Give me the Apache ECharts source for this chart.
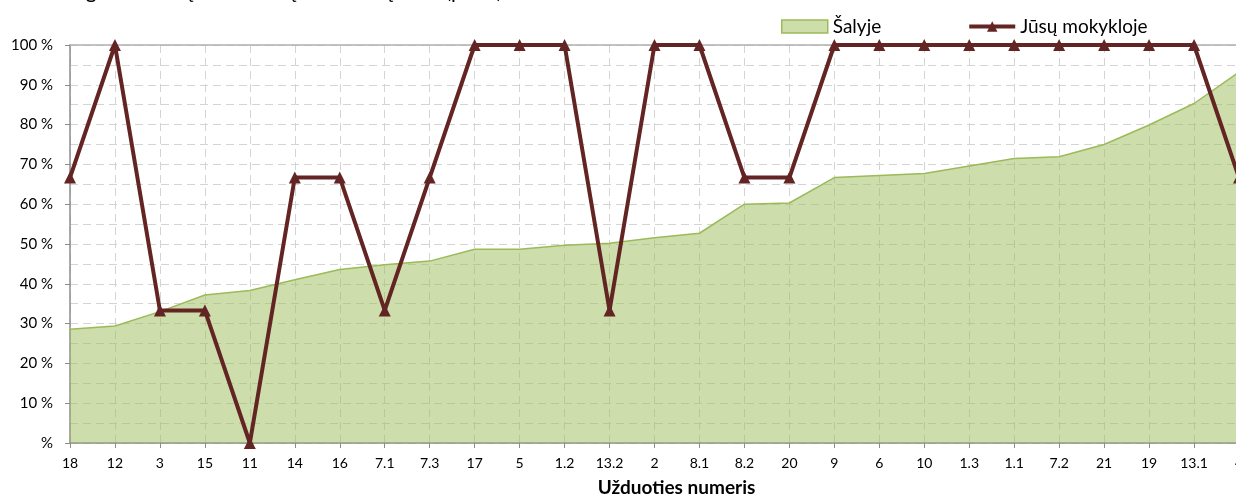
<!DOCTYPE html>
<html lang="lt">
<head>
    <meta charset="UTF-8">
    <title></title>
    <style>
        html, body { margin: 0; padding: 0; overflow: hidden; background: #fff; }
    </style>
</head>
<body>
<div id="main-line" style="width: 1300px; height: 496px;"></div>

<script src="https://cdn.jsdelivr.net/npm/echarts@6/dist/echarts.min.js"></script>
<script type="text/javascript">
    // užduočių numeriai (x ašis)
    var uzduotys = ['18', '12', '3', '15', '11', '14', '16', '7.1', '7.3', '17', '5', '1.2', '13.2', '2',
        '8.1', '8.2', '20', '9', '6', '10', '1.3', '1.1', '7.2', '21', '19', '13.1', '4'];
    // šalies rezultatai, %
    var salyje = [28.6, 29.4, 33.0, 37.2, 38.3, 41.0, 43.6, 44.8, 45.7, 48.7, 48.7, 49.7, 50.2, 51.6,
        52.7, 60.0, 60.3, 66.7, 67.2, 67.7, 69.6, 71.5, 71.9, 75.0, 79.9, 85.3, 93.2];
    // mokyklos rezultatai, %
    var mokykloje = [66.7, 100, 33.3, 33.3, 0, 66.7, 66.7, 33.3, 66.7, 100, 100, 100, 33.3, 100,
        100, 66.7, 66.7, 100, 100, 100, 100, 100, 100, 100, 100, 100, 66.7];
    var yTicks = [0, 10, 20, 30, 40, 50, 60, 70, 80, 90, 100];

    var font = 'Lato, "Open Sans", sans-serif';
    var gridColor = '#d4d4d4';
    var axisColor = '#8c8c8c';

    var myChart = echarts.init(document.getElementById('main-line'));

    var option = {
        animation: false,
        textStyle: {fontFamily: font},
        graphic: [{
            type: 'text',
            x: 34,
            y: -19,
            style: {
                text: 'Teisingai atlikusių moksleivių ir mokinių dalis (proc.)',
                font: '21px ' + font,
                fill: '#000',
                verticalAlign: 'top'
            }
        }],
        legend: {
            left: 776,
            top: 12,
            itemWidth: 46,
            itemHeight: 13,
            itemGap: 86,
            textStyle: {fontSize: 19, color: '#000', fontFamily: font},
            data: [{
                name: 'Šalyje',
                icon: 'rect',
                itemStyle: {color: '#cddeab', borderColor: '#9bbb59', borderWidth: 1.5}
            }, {
                name: 'Jūsų mokykloje',
                lineStyle: {width: 4, color: '#632523'}
            }]
        },
        grid: {
            left: 70,
            top: 45,
            right: 61,
            bottom: 53,
            outerBoundsMode: 'none'
        },
        xAxis: [{
            type: 'category',
            boundaryGap: false,
            data: uzduotys,
            axisLine: {lineStyle: {color: axisColor, width: 1.5}},
            axisTick: {show: true, length: 5, lineStyle: {color: axisColor}},
            axisLabel: {color: '#000', fontSize: 14, margin: 13, interval: 0},
            splitLine: {show: true, lineStyle: {color: gridColor, type: [8, 5], width: 1}},
            name: 'Užduoties numeris',
            nameLocation: 'middle',
            nameGap: 35,
            nameTextStyle: {color: '#000', fontSize: 19, fontWeight: 'bold', padding: [0, 0, 0, 44]}
        }, {
            type: 'category',
            position: 'top',
            boundaryGap: false,
            data: uzduotys,
            axisLine: {lineStyle: {color: '#b0b0b0', width: 1.5}},
            axisTick: {show: false},
            axisLabel: {show: false},
            splitLine: {show: false}
        }],
        yAxis: {
            type: 'value',
            min: yTicks[0],
            max: yTicks[yTicks.length - 1],
            interval: 10,
            axisLine: {show: true, lineStyle: {color: axisColor, width: 1.5}},
            axisTick: {show: true, length: 5, lineStyle: {color: axisColor}},
            axisLabel: {
                color: '#000',
                fontSize: 15,
                margin: 17,
                formatter: function (v) {
                    return v === 0 ? '%' : v + ' %';
                }
            },
            splitLine: {show: true, lineStyle: {color: gridColor, type: [8, 5], width: 1}},
            minorTick: {show: false, splitNumber: 2},
            minorSplitLine: {show: true, lineStyle: {color: gridColor, type: [8, 5], width: 1}}
        },
        series: [{
            name: 'Šalyje',
            type: 'line',
            symbol: 'none',
            data: salyje,
            itemStyle: {color: '#cddeab'},
            lineStyle: {color: '#9bbb59', width: 1.5},
            areaStyle: {color: '#9bbb59', opacity: 0.5},
            z: 2
        }, {
            name: 'Jūsų mokykloje',
            type: 'line',
            symbol: 'triangle',
            symbolSize: 12,
            data: mokykloje,
            itemStyle: {color: '#632523'},
            lineStyle: {color: '#632523', width: 4},
            z: 3
        }]
    };

    myChart.setOption(option);
</script>
</body>
</html>
